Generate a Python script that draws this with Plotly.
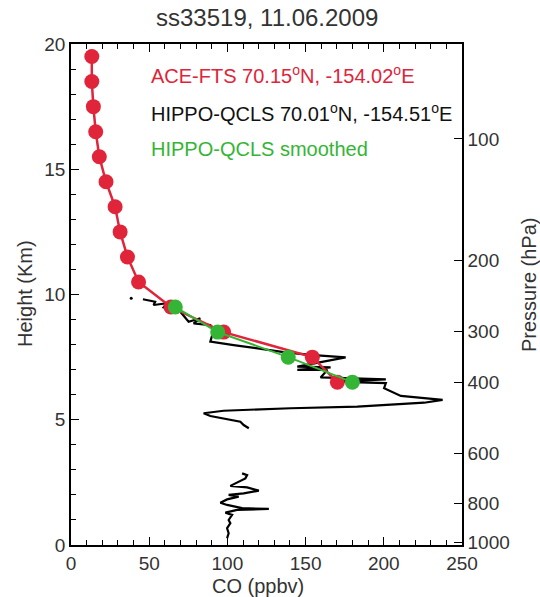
import numpy as np
import plotly.graph_objects as go

# ACE-FTS profile
ace_height = [19.5, 18.5, 17.5, 16.5, 15.5, 14.5, 13.5, 12.5, 11.5, 10.5, 9.5, 8.5, 7.5, 6.5]
ace_co = [13.3, 13.3, 14.3, 15.8, 18.1, 22.4, 28.2, 31.4, 36.1, 43.2, 63.9, 97.6, 154.3, 170.3]

# HIPPO-QCLS smoothed
sm_height = [9.5, 8.5, 7.5, 6.5]
sm_co = [66.7, 93.8, 138.9, 179.9]

# HIPPO-QCLS raw profile (upper segment, lower segment)
hippo_up_co = [46.0, 53.8, 52.8, 61.3, 59.2, 69.9, 75.2, 82.7, 78.4, 89.1, 91.2, 89.1,
               104.0, 125.4, 138.3, 155.3, 175.6, 144.7, 166.0, 144.7, 163.9, 159.6,
               201.3, 168.1, 201.3, 200.2, 210.9, 237.6, 225.8, 183.1, 140.4, 97.6,
               84.8, 89.1, 99.8, 108.3, 110.4, 113.7]
hippo_up_h = [9.81, 9.71, 9.58, 9.65, 9.49, 9.31, 8.91, 9.05, 8.85, 8.78, 8.58, 8.12,
              7.98, 7.81, 7.68, 7.58, 7.49, 7.12, 7.09, 6.99, 6.99, 6.69,
              6.61, 6.52, 6.46, 6.26, 5.95, 5.79, 5.68, 5.52, 5.46, 5.36,
              5.26, 5.15, 5.02, 4.92, 4.79, 4.66]
hippo_lo_co = [109.4, 112.6, 111.5, 105.1, 101.9, 112.6, 120.1, 110.4, 100.8, 107.2,
               99.8, 95.5, 99.8, 109.4, 126.5, 106.2, 98.7, 103.0, 100.8, 101.9,
               99.8, 100.8, 99.8]
hippo_lo_h = [2.86, 2.79, 2.66, 2.46, 2.36, 2.30, 2.17, 2.06, 2.00, 1.93,
              1.82, 1.69, 1.60, 1.47, 1.44, 1.40, 1.29, 1.20, 1.00, 0.87,
              0.67, 0.47, 0.27]
hippo_dot_co = [38.5]
hippo_dot_h = [9.85]

# Pressure axis labels
pressure_ticks = [100, 200, 300, 400, 600, 800, 1000]
SCALE_H = 7.0
P0 = 1013.0

RED = "#E0243A"
GREEN = "#35B535"
FONT = "Liberation Sans, Arial, Helvetica, sans-serif"
TXT = "#333333"

W, H = 540, 597
ML, MR, MT, MB = 71, 78, 44, 52
PW, PH = W - ML - MR, H - MT - MB


def px(xp):
    return (xp - ML) / PW


def py(yp):
    return 1 - (yp - MT) / PH


fig = go.Figure()

fig.add_trace(go.Scatter(
    x=hippo_up_co + [None] + hippo_lo_co, y=hippo_up_h + [None] + hippo_lo_h,
    mode="lines", line=dict(color="black", width=2.2), showlegend=False, connectgaps=False))
fig.add_trace(go.Scatter(
    x=hippo_dot_co, y=hippo_dot_h, mode="markers",
    marker=dict(color="black", size=3), showlegend=False))
fig.add_trace(go.Scatter(
    x=ace_co, y=ace_height, mode="lines+markers",
    line=dict(color=RED, width=2.5), marker=dict(color=RED, size=15),
    showlegend=False))
fig.add_trace(go.Scatter(
    x=sm_co, y=sm_height, mode="lines+markers",
    line=dict(color=GREEN, width=2), marker=dict(color=GREEN, size=15),
    showlegend=False))
# invisible trace to activate yaxis2
fig.add_trace(go.Scatter(x=[None], y=[None], yaxis="y2", showlegend=False))

p_heights = [SCALE_H * np.log(P0 / p) for p in pressure_ticks]

fig.update_layout(
    width=W, height=H,
    margin=dict(l=ML, r=MR, t=MT, b=MB),
    paper_bgcolor="white", plot_bgcolor="white",
    font=dict(family=FONT, size=19, color=TXT),
    xaxis=dict(range=[0, 250], showline=True, linecolor="black", linewidth=1.5,
               mirror="ticks", ticks="inside", ticklen=8, tickcolor="black",
               tickvals=[0, 50, 100, 150, 200, 250], showgrid=False, zeroline=False,
               minor=dict(dtick=10, ticks="inside", ticklen=5, tickcolor="black"),
               automargin=False, tickfont=dict(size=19, color=TXT)),
    yaxis=dict(range=[0, 20], showline=True, linecolor="black", linewidth=1.5,
               ticks="inside", ticklen=8, tickcolor="black",
               tickvals=[0, 5, 10, 15, 20], showgrid=False, zeroline=False,
               minor=dict(dtick=1, ticks="inside", ticklen=5, tickcolor="black"),
               automargin=False, tickfont=dict(size=19, color=TXT)),
    yaxis2=dict(range=[0, 20], overlaying="y", side="right", showline=True,
                linecolor="black", linewidth=1.5, ticks="inside", ticklen=8,
                tickcolor="black", tickvals=p_heights,
                ticktext=[str(p) for p in pressure_ticks],
                showgrid=False, zeroline=False, automargin=False,
                tickfont=dict(size=19, color=TXT)),
)

# title and axis titles
fig.add_annotation(text="ss33519, 11.06.2009", xref="paper", yref="paper",
                   x=px(267), y=py(18), xanchor="center", yanchor="middle",
                   showarrow=False, font=dict(size=24, color=TXT))
fig.add_annotation(text="CO (ppbv)", xref="paper", yref="paper",
                   x=px(258), y=py(586), xanchor="center", yanchor="middle",
                   showarrow=False, font=dict(size=20, color=TXT))
fig.add_annotation(text="Height (Km)", xref="paper", yref="paper",
                   x=px(25), y=py(294), xanchor="center", yanchor="middle",
                   textangle=-90, showarrow=False, font=dict(size=20, color=TXT))
fig.add_annotation(text="Pressure (hPa)", xref="paper", yref="paper",
                   x=px(529), y=py(285), xanchor="center", yanchor="middle",
                   textangle=-90, showarrow=False, font=dict(size=20, color=TXT))

legend_items = [
    ("ACE-FTS 70.15<sup>o</sup>N, -154.02<sup>o</sup>E", RED, 75),
    ("HIPPO-QCLS 70.01<sup>o</sup>N, -154.51<sup>o</sup>E", "#111111", 113),
    ("HIPPO-QCLS smoothed", GREEN, 149),
]
for text, col, ypix in legend_items:
    fig.add_annotation(text=text, xref="paper", yref="paper",
                       x=px(149), y=py(ypix),
                       xanchor="left", yanchor="middle", showarrow=False,
                       font=dict(size=20, color=col))

fig.write_html("out.html")
